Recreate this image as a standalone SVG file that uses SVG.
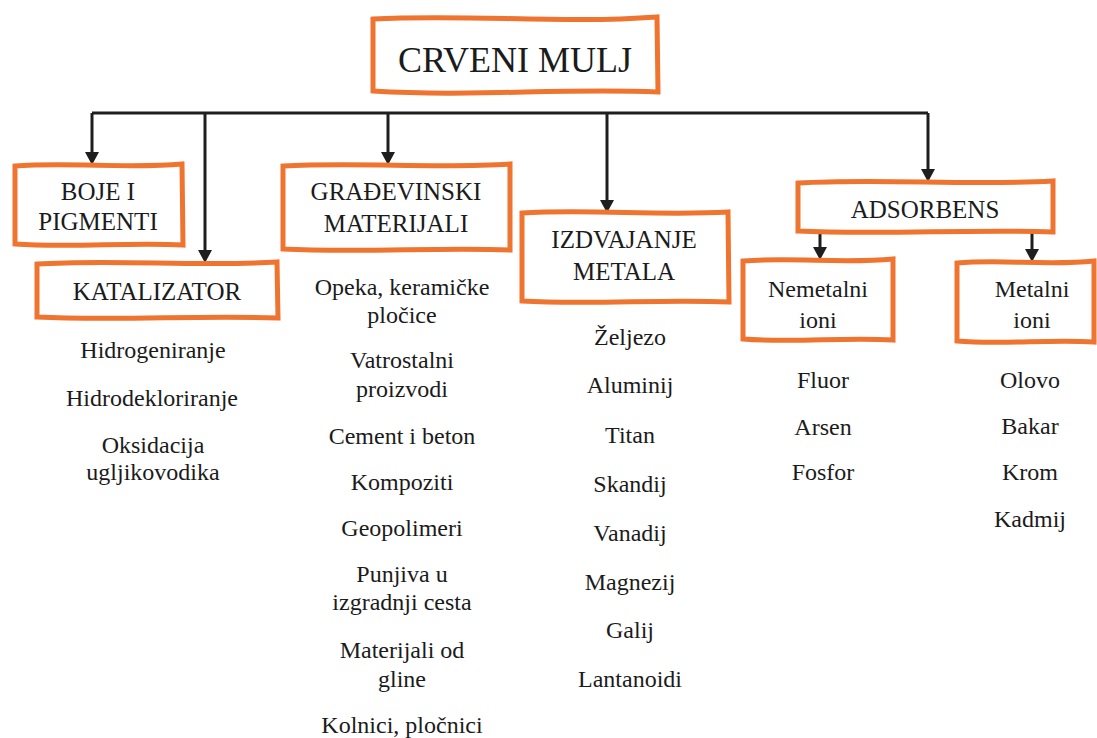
<svg xmlns="http://www.w3.org/2000/svg" width="1097" height="738" viewBox="0 0 1097 738">
<defs>
<marker id="ah" viewBox="0 0 13 14" markerWidth="13" markerHeight="14" refX="8" refY="7" orient="auto" markerUnits="userSpaceOnUse">
<path d="M0,0 L13,7 L0,14 Z" fill="#1e1e1e"/>
</marker>
</defs>
<rect width="1097" height="738" fill="#fff"/>
<g id="connectors" fill="none" stroke="#1e1e1e" stroke-width="3" stroke-linejoin="round">
<path fill="none" stroke="#1e1e1e" stroke-width="3" d="M92,113 H928"/>
<path fill="none" stroke="#1e1e1e" stroke-width="3" d="M92,113 V160" marker-end="url(#ah)"/>
<path fill="none" stroke="#1e1e1e" stroke-width="3" d="M205,113 V258" marker-end="url(#ah)"/>
<path fill="none" stroke="#1e1e1e" stroke-width="3" d="M388,113 V160" marker-end="url(#ah)"/>
<path fill="none" stroke="#1e1e1e" stroke-width="3" d="M607,113 V208" marker-end="url(#ah)"/>
<path fill="none" stroke="#1e1e1e" stroke-width="3" d="M928,113 V177" marker-end="url(#ah)"/>
<path fill="none" stroke="#1e1e1e" stroke-width="3" d="M820,233 V255" marker-end="url(#ah)"/>
<path fill="none" stroke="#1e1e1e" stroke-width="3" d="M1032,233 V257" marker-end="url(#ah)"/>
</g>
<g id="crveni-mulj">
<path fill="#fff" stroke="#EE7430" stroke-width="5" d="M373,19 C470,14 560,24 657,17 L658,92 C560,88 470,97 373,91 Z"/>
<text font-family="Liberation Serif" font-size="36" fill="#1b1b1b" text-anchor="middle" x="515" y="72">CRVENI MULJ</text>
</g>
<g id="boje-pigmenti">
<path fill="#fff" stroke="#EE7430" stroke-width="5" d="M15,166 C70,162 130,169 182,164 L183,245 C130,242 70,248 15,244 Z"/>
<text font-family="Liberation Serif" font-size="25" fill="#1b1b1b" text-anchor="middle" x="98" y="200">BOJE I</text>
<text font-family="Liberation Serif" font-size="25" fill="#1b1b1b" text-anchor="middle" x="98" y="230">PIGMENTI</text>
</g>
<g id="katalizator">
<path fill="#fff" stroke="#EE7430" stroke-width="5" d="M37,264 C115,259 200,267 277,262 L278,318 C200,315 115,321 37,317 Z"/>
<text font-family="Liberation Serif" font-size="25" fill="#1b1b1b" text-anchor="middle" x="157" y="300">KATALIZATOR</text>
<text font-family="Liberation Serif" font-size="24" fill="#1b1b1b" text-anchor="middle" x="153" y="358">Hidrogeniranje</text>
<text font-family="Liberation Serif" font-size="24" fill="#1b1b1b" text-anchor="middle" x="152" y="406">Hidrodekloriranje</text>
<text font-family="Liberation Serif" font-size="24" fill="#1b1b1b" text-anchor="middle" x="153" y="453">Oksidacija</text>
<text font-family="Liberation Serif" font-size="24" fill="#1b1b1b" text-anchor="middle" x="153" y="480">ugljikovodika</text>
</g>
<g id="gradjevinski-materijali">
<path fill="#fff" stroke="#EE7430" stroke-width="5" d="M283,166 C360,162 440,169 510,164 L510,250 C440,247 360,253 283,249 Z"/>
<text font-family="Liberation Serif" font-size="25" fill="#1b1b1b" text-anchor="middle" x="396" y="200">GRAĐEVINSKI</text>
<text font-family="Liberation Serif" font-size="25" fill="#1b1b1b" text-anchor="middle" x="396" y="232">MATERIJALI</text>
<text font-family="Liberation Serif" font-size="24" fill="#1b1b1b" text-anchor="middle" x="402" y="295">Opeka, keramičke</text>
<text font-family="Liberation Serif" font-size="24" fill="#1b1b1b" text-anchor="middle" x="402" y="323">pločice</text>
<text font-family="Liberation Serif" font-size="24" fill="#1b1b1b" text-anchor="middle" x="402" y="368">Vatrostalni</text>
<text font-family="Liberation Serif" font-size="24" fill="#1b1b1b" text-anchor="middle" x="402" y="397">proizvodi</text>
<text font-family="Liberation Serif" font-size="24" fill="#1b1b1b" text-anchor="middle" x="402" y="444">Cement i beton</text>
<text font-family="Liberation Serif" font-size="24" fill="#1b1b1b" text-anchor="middle" x="402" y="490">Kompoziti</text>
<text font-family="Liberation Serif" font-size="24" fill="#1b1b1b" text-anchor="middle" x="402" y="536">Geopolimeri</text>
<text font-family="Liberation Serif" font-size="24" fill="#1b1b1b" text-anchor="middle" x="402" y="582">Punjiva u</text>
<text font-family="Liberation Serif" font-size="24" fill="#1b1b1b" text-anchor="middle" x="402" y="610">izgradnji cesta</text>
<text font-family="Liberation Serif" font-size="24" fill="#1b1b1b" text-anchor="middle" x="402" y="658">Materijali od</text>
<text font-family="Liberation Serif" font-size="24" fill="#1b1b1b" text-anchor="middle" x="402" y="687">gline</text>
<text font-family="Liberation Serif" font-size="24" fill="#1b1b1b" text-anchor="middle" x="402" y="733">Kolnici, pločnici</text>
</g>
<g id="izdvajanje-metala">
<path fill="#fff" stroke="#EE7430" stroke-width="5" d="M522,213 C590,209 660,216 728,212 L729,302 C660,299 590,305 522,301 Z"/>
<text font-family="Liberation Serif" font-size="25" fill="#1b1b1b" text-anchor="middle" x="624" y="248">IZDVAJANJE</text>
<text font-family="Liberation Serif" font-size="25" fill="#1b1b1b" text-anchor="middle" x="624" y="280">METALA</text>
<text font-family="Liberation Serif" font-size="24" fill="#1b1b1b" text-anchor="middle" x="630" y="345">Željezo</text>
<text font-family="Liberation Serif" font-size="24" fill="#1b1b1b" text-anchor="middle" x="630" y="393">Aluminij</text>
<text font-family="Liberation Serif" font-size="24" fill="#1b1b1b" text-anchor="middle" x="630" y="443">Titan</text>
<text font-family="Liberation Serif" font-size="24" fill="#1b1b1b" text-anchor="middle" x="630" y="492">Skandij</text>
<text font-family="Liberation Serif" font-size="24" fill="#1b1b1b" text-anchor="middle" x="630" y="541">Vanadij</text>
<text font-family="Liberation Serif" font-size="24" fill="#1b1b1b" text-anchor="middle" x="630" y="590">Magnezij</text>
<text font-family="Liberation Serif" font-size="24" fill="#1b1b1b" text-anchor="middle" x="630" y="638">Galij</text>
<text font-family="Liberation Serif" font-size="24" fill="#1b1b1b" text-anchor="middle" x="630" y="687">Lantanoidi</text>
</g>
<g id="adsorbens">
<path fill="#fff" stroke="#EE7430" stroke-width="5" d="M798,183 C880,178 970,186 1053,181 L1053,232 C970,229 880,235 798,231 Z"/>
<text font-family="Liberation Serif" font-size="25" fill="#1b1b1b" text-anchor="middle" x="925" y="218">ADSORBENS</text>
</g>
<g id="nemetalni-ioni">
<path fill="#fff" stroke="#EE7430" stroke-width="5" d="M743,261 C793,257 843,264 893,259 L893,340 C843,337 793,343 743,339 Z"/>
<text font-family="Liberation Serif" font-size="24" fill="#1b1b1b" text-anchor="middle" x="818" y="297">Nemetalni</text>
<text font-family="Liberation Serif" font-size="24" fill="#1b1b1b" text-anchor="middle" x="818" y="328">ioni</text>
<text font-family="Liberation Serif" font-size="24" fill="#1b1b1b" text-anchor="middle" x="823" y="388">Fluor</text>
<text font-family="Liberation Serif" font-size="24" fill="#1b1b1b" text-anchor="middle" x="823" y="435">Arsen</text>
<text font-family="Liberation Serif" font-size="24" fill="#1b1b1b" text-anchor="middle" x="823" y="480">Fosfor</text>
</g>
<g id="metalni-ioni">
<path fill="#fff" stroke="#EE7430" stroke-width="5" d="M957,263 C1003,259 1048,266 1094,261 L1094,342 C1048,339 1003,345 957,341 Z"/>
<text font-family="Liberation Serif" font-size="24" fill="#1b1b1b" text-anchor="middle" x="1032" y="297">Metalni</text>
<text font-family="Liberation Serif" font-size="24" fill="#1b1b1b" text-anchor="middle" x="1032" y="328">ioni</text>
<text font-family="Liberation Serif" font-size="24" fill="#1b1b1b" text-anchor="middle" x="1030" y="388">Olovo</text>
<text font-family="Liberation Serif" font-size="24" fill="#1b1b1b" text-anchor="middle" x="1030" y="434">Bakar</text>
<text font-family="Liberation Serif" font-size="24" fill="#1b1b1b" text-anchor="middle" x="1030" y="480">Krom</text>
<text font-family="Liberation Serif" font-size="24" fill="#1b1b1b" text-anchor="middle" x="1030" y="527">Kadmij</text>
</g>
</svg>
